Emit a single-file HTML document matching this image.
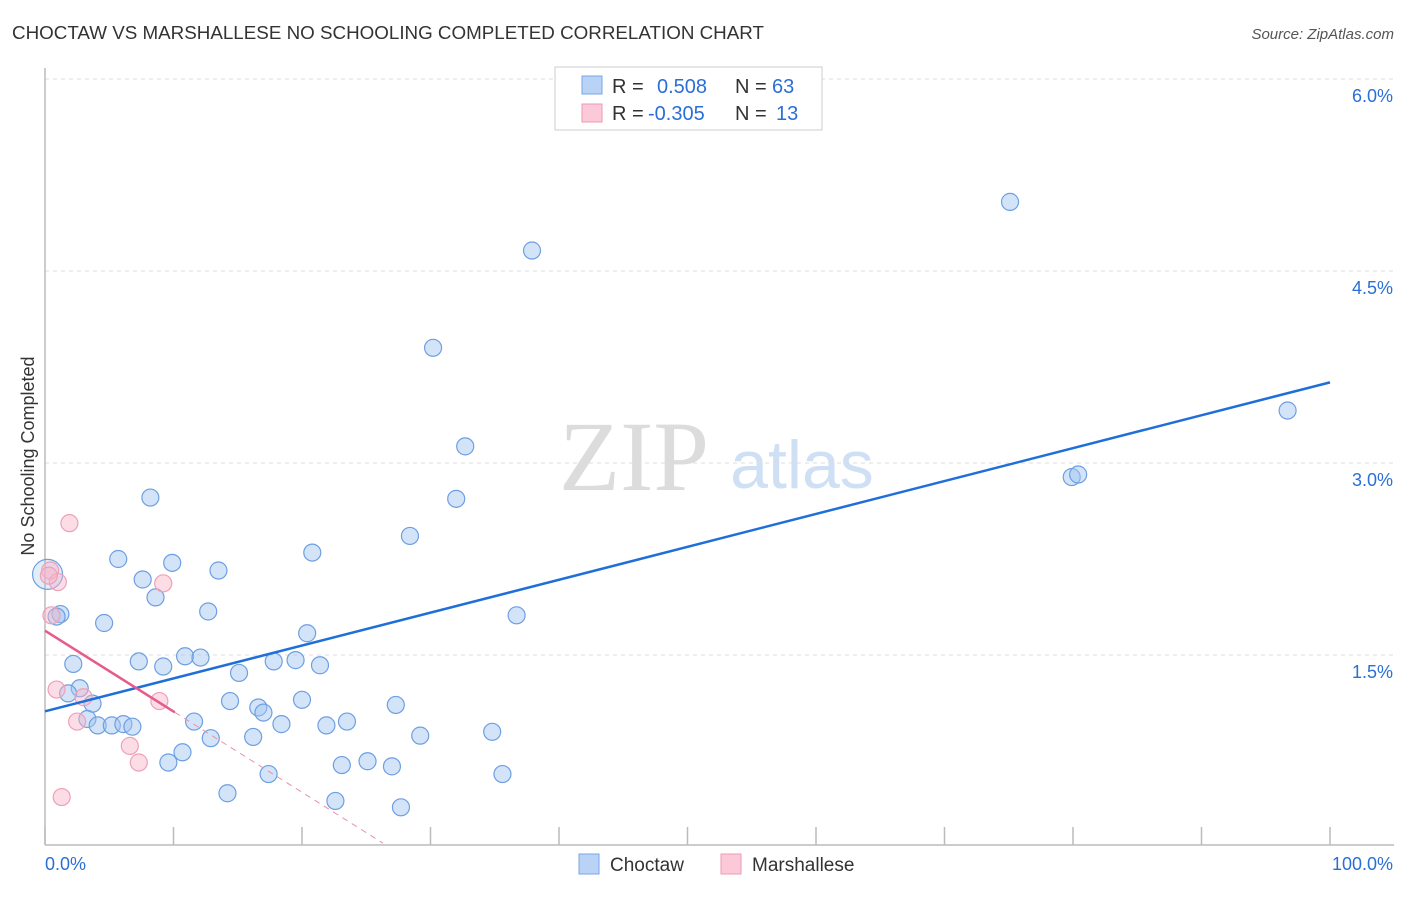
<!DOCTYPE html>
<html><head><meta charset="utf-8"><style>
body{margin:0;background:#fff;font-family:"Liberation Sans",sans-serif}
</style></head><body>
<svg id="chart" width="1406" height="892" font-family="Liberation Sans, sans-serif">
<text x="12" y="39" font-size="18" fill="#333" textLength="752" lengthAdjust="spacingAndGlyphs">CHOCTAW VS MARSHALLESE NO SCHOOLING COMPLETED CORRELATION CHART</text>
<text x="1394" y="39" font-size="15" fill="#555" font-style="italic" text-anchor="end">Source: ZipAtlas.com</text>
<text x="634" y="490" font-size="100" fill="#dcdcdc" style="font-family:'Liberation Serif',serif" text-anchor="middle">ZIP</text>
<text x="802" y="488" font-size="68" fill="#cfe0f5" text-anchor="middle">atlas</text>
<g id="grid"></g><g id="axes"></g><g id="marks"></g>
<text transform="translate(34,456) rotate(-90)" font-size="18" fill="#333" text-anchor="middle">No Schooling Completed</text>
<g>
<rect x="555" y="67" width="267" height="63" fill="#fff" stroke="#ccc"/>
<rect x="582" y="76" width="20" height="18" fill="#b8d3f5" stroke="#7aa6e6"/>
<rect x="582" y="104" width="20" height="18" fill="#fbc9d8" stroke="#ec9ab4"/>
<text x="612" y="93" font-size="20" fill="#333">R = <tspan fill="#2a6fd6" x="657">0.508</tspan><tspan fill="#333" x="735">N = </tspan><tspan fill="#2a6fd6" x="772">63</tspan></text>
<text x="612" y="120" font-size="20" fill="#333">R = <tspan fill="#2a6fd6" x="648">-0.305</tspan><tspan fill="#333" x="735">N = </tspan><tspan fill="#2a6fd6" x="776">13</tspan></text>
</g>
<g>
<rect x="579" y="854" width="20" height="20" fill="#b8d3f5" stroke="#7aa6e6"/>
<text x="610" y="871" font-size="19" fill="#333">Choctaw</text>
<rect x="721" y="854" width="20" height="20" fill="#fbc9d8" stroke="#ec9ab4"/>
<text x="752" y="871" font-size="19" fill="#333">Marshallese</text>
</g>
</svg>
<script>
const choctawX=[8.2,5.7,9.9,7.6,8.6,13.5,12.7,4.6,1.2,0.9,7.3,9.2,10.9,12.1,2.2,15.1,17.8,19.5,21.4,20.4,20.8,28.4,32.0,32.7,30.2,37.9,75.1,96.7,79.9,80.4,36.7,2.7,1.8,3.7,3.3,4.1,5.2,6.1,6.8,11.6,10.7,9.6,12.9,14.4,16.6,17.0,18.4,20.0,16.2,17.4,14.2,21.9,23.5,27.3,29.2,23.1,25.1,27.0,34.8,35.6,22.6,27.7,0.2];
const choctawY=[2.73,2.25,2.22,2.09,1.95,2.16,1.84,1.75,1.82,1.80,1.45,1.41,1.49,1.48,1.43,1.36,1.45,1.46,1.42,1.67,2.30,2.43,2.72,3.13,3.90,4.66,5.04,3.41,2.89,2.91,1.81,1.24,1.20,1.12,1.00,0.95,0.95,0.96,0.94,0.98,0.74,0.66,0.85,1.14,1.09,1.05,0.96,1.15,0.86,0.57,0.42,0.95,0.98,1.11,0.87,0.64,0.67,0.63,0.90,0.57,0.36,0.31,2.13];
const marshX=[1.9,0.4,1.0,9.2,0.5,0.9,3.0,2.5,8.9,6.6,7.3,1.3,0.3];
const marshY=[2.53,2.16,2.07,2.06,1.81,1.23,1.17,0.98,1.14,0.79,0.66,0.39,2.12];
const yTicks=[1.5,3.0,4.5,6.0];
const xTickLabels=["0.0%","100.0%"];
const choctawTrend=[1.06,3.63];
const marshTrend=[1.69,0.03];
const marshSolidEnd=10.1, marshDashEnd=26.3;
const NS="http://www.w3.org/2000/svg";
const xs=v=>45+v*12.85, ys=v=>847-v*128;
function mk(tag,attrs,parent){const e=document.createElementNS(NS,tag);for(const k in attrs)e.setAttribute(k,attrs[k]);document.getElementById(parent).appendChild(e);return e;}
yTicks.forEach(t=>{
 const l=mk('line',{x1:45,x2:1394,y1:ys(t),y2:ys(t),stroke:'#ddd','stroke-dasharray':'4,4'},'grid');
 
 
 const tx=mk('text',{x:1393,y:ys(t)+23,'font-size':18,fill:'#2a6fd6','text-anchor':'end'},'grid');tx.textContent=t.toFixed(1)+'%';
 
 
});
let a=mk('line',{x1:45,x2:45,y1:68,y2:845,stroke:'#bbb','stroke-width':1.5},'axes');


a=mk('line',{x1:45,x2:1394,y1:845,y2:845,stroke:'#bbb','stroke-width':1.5},'axes');


for(let i=0;i<=10;i++){const t=mk('line',{x1:xs(i*10),x2:xs(i*10),y1:827,y2:845,stroke:'#bbb','stroke-width':1.5},'axes');
 
 }
let xl=mk('text',{x:45,y:870,'font-size':18,fill:'#2a6fd6'},'axes');xl.textContent=xTickLabels[0];


xl=mk('text',{x:1393,y:870,'font-size':18,fill:'#2a6fd6','text-anchor':'end'},'axes');xl.textContent=xTickLabels[1];


choctawX.forEach((x,i)=>{const big=i==choctawX.length-1;
 const c=mk('circle',{cx:xs(x),cy:ys(choctawY[i]),r:big?15:8.5,fill:big?'rgba(160,196,240,0.3)':'rgba(160,196,240,0.45)',stroke:'#6d9fe2','stroke-width':1.2},'marks');
 
 });
marshX.forEach((x,i)=>{
 const c=mk('circle',{cx:xs(x),cy:ys(marshY[i]),r:8.5,fill:'rgba(248,180,200,0.45)',stroke:'#eea0b8','stroke-width':1.2},'marks');
 
 });
let ln=mk('line',{x1:xs(0),y1:ys(choctawTrend[0]),x2:xs(100),y2:ys(choctawTrend[1]),stroke:'#1f6fd8','stroke-width':2.5},'marks');


const my=x=>marshTrend[0]+(marshTrend[1]-marshTrend[0])*x/marshDashEnd;
ln=mk('line',{x1:xs(0),y1:ys(my(0)),x2:xs(marshSolidEnd),y2:ys(my(marshSolidEnd)),stroke:'#e55b8a','stroke-width':2.5},'marks');


ln=mk('line',{x1:xs(marshSolidEnd),y1:ys(my(marshSolidEnd)),x2:xs(marshDashEnd),y2:ys(my(marshDashEnd)),stroke:'#eb8fae','stroke-width':1,'stroke-dasharray':'6,5'},'marks');


</script>
</body></html>
